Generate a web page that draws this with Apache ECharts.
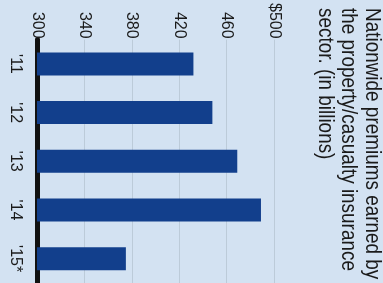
<!DOCTYPE html>
<html>
<head>
<meta charset="utf-8">
<script src="https://cdn.jsdelivr.net/npm/echarts@6/dist/echarts.min.js"></script>
<style>
  html,body{margin:0;padding:0;background:#d3e2f2;}
  #chart{width:383px;height:283px;}
</style>
</head>
<body>
<div id="chart"></div>
<script>
var years = ["'11", "'12", "'13", "'14", "'15*"];
var premiums = [432, 448, 469, 489, 375];
var titleLines = ['Nationwide premiums earned by', 'the property/casualty insurance', 'sector. (in billions)'];

var myChart = echarts.init(document.getElementById('chart'));

// title is turned a quarter clockwise, one text per line
var titleGraphics = titleLines.map(function (line, i) {
    return {
        type: 'text',
        x: 372 - i * 23.5,
        y: 8,
        rotation: -Math.PI / 2,
        scaleX: 0.86,
        style: {
            text: line,
            font: '22px "Liberation Sans"',
            fill: '#1a1a1a',
            textAlign: 'left',
            textVerticalAlign: 'middle'
        }
    };
});

var option = {
    backgroundColor: '#d3e2f2',
    animation: false,
    textStyle: {fontFamily: 'Liberation Sans'},
    grid: {
        left: 37,
        top: 39,
        width: 237,
        height: 252
    },
    graphic: titleGraphics,
    xAxis: {
        type: 'value',
        position: 'top',
        min: 300,
        max: 500,
        interval: 40,
        axisLine: {show: false},
        axisTick: {show: false},
        splitLine: {
            lineStyle: {color: '#bccbd9', width: 1}
        },
        axisLabel: {
            rotate: 90,
            margin: 1,
            fontSize: 16,
            color: '#1a1a1a',
            formatter: function (v) {
                return v === 500 ? '$500' : String(v);
            }
        }
    },
    yAxis: {
        type: 'category',
        inverse: true,
        data: years,
        axisLine: {
            lineStyle: {color: '#111', width: 5}
        },
        axisTick: {show: false},
        axisLabel: {
            rotate: -90,
            margin: 14,
            fontSize: 16,
            color: '#1a1a1a'
        }
    },
    series: [{
        type: 'bar',
        data: premiums,
        barWidth: 23,
        itemStyle: {color: '#123f8c'}
    }]
};
myChart.setOption(option);
</script>
</body>
</html>
